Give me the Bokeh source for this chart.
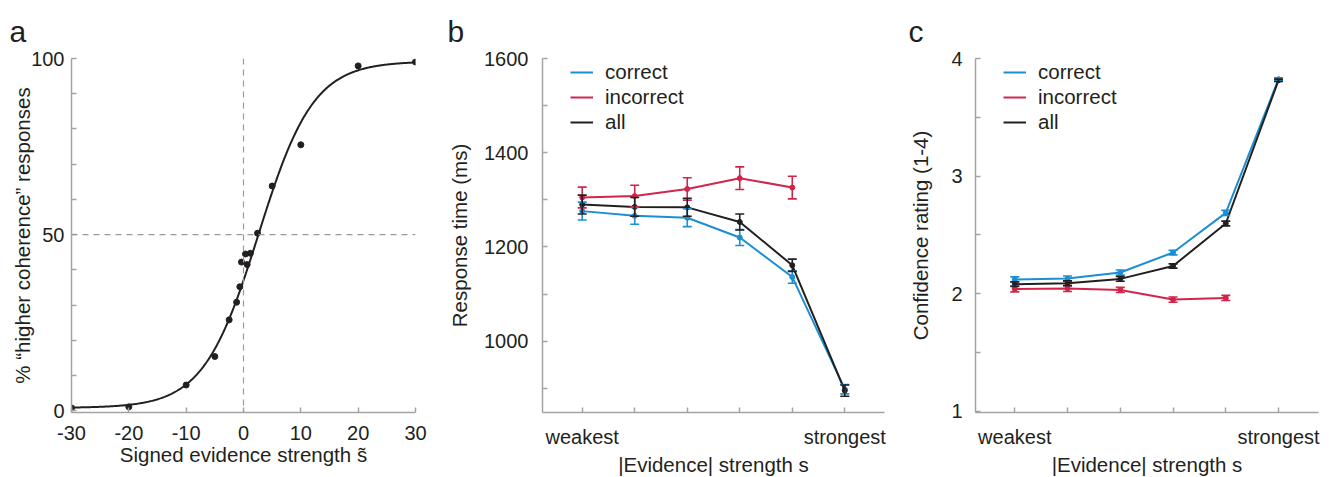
import numpy as np
from bokeh.plotting import figure
from bokeh.models import (Range1d, FixedTicker, Span, Whisker, ColumnDataSource,
                          TeeHead, Legend, LegendItem)
from bokeh.layouts import row
from bokeh.embed import file_html
from bokeh.resources import INLINE

# ---------------- data ----------------
# panel a: psychometric data points
a_x = [-30, -20, -10, -5, -2.5, -1.2, -0.64, -0.35, 0.35, 0.64, 1.2, 2.45, 5, 10, 20, 30]
a_y = [0.8, 1.1, 7.3, 15.4, 25.8, 30.8, 35.2, 42.2, 44.5, 41.5, 44.7, 50.4, 63.8, 75.5, 97.9, 99.0]
# logistic fit parameters
fit_low, fit_high, fit_mid, fit_scale = 0.8, 99.2, 2.6, 4.8
a_xticks = [-30, -20, -10, 0, 10, 20, 30]
a_xlabels = {-30: "-30", -20: "-20", -10: "-10", 0: "0", 10: "10", 20: "20", 30: "30"}
a_yticks = [0, 10, 20, 30, 40, 50, 60, 70, 80, 90, 100]
a_ylabels = {0: "0", 50: "50", 100: "100"}

# panels b, c: evidence strength levels
levels = [1, 2, 3, 4, 5, 6]
level_labels = {1: "weakest", 6: "strongest"}

rt_correct = [1276, 1266, 1262, 1220, 1136, 898]
rt_correct_err = [19, 18, 19, 17, 13, 10]
rt_incorrect = [1305, 1308, 1323, 1346, 1326]
rt_incorrect_err = [22, 23, 24, 24, 24]
rt_all = [1290, 1285, 1284, 1253, 1161, 895]
rt_all_err = [20, 20, 19, 17, 13, 12]
b_yticks = [900, 1000, 1100, 1200, 1300, 1400, 1500, 1600]
b_ylabels = {1000: "1000", 1200: "1200", 1400: "1400", 1600: "1600"}

conf_correct = [2.121, 2.129, 2.18, 2.35, 2.687, 3.824]
conf_correct_err = [0.022, 0.022, 0.022, 0.02, 0.022, 0.012]
conf_incorrect = [2.041, 2.044, 2.032, 1.95, 1.964]
conf_incorrect_err = [0.025, 0.025, 0.022, 0.022, 0.022]
conf_all = [2.081, 2.089, 2.126, 2.236, 2.597, 3.815]
conf_all_err = [0.02, 0.02, 0.02, 0.018, 0.02, 0.01]
c_yticks = [1, 1.5, 2, 2.5, 3, 3.5, 4]
c_ylabels = {1: "1", 2: "2", 3: "3", 4: "4"}

series_names = ["correct", "incorrect", "all"]

# ---------------- style ----------------
FONT = "Liberation Sans"
TXT = "#231f20"
AXC = "#a3a3a3"
BLUE = "#1b8fd3"
RED = "#d2254c"
BLACK = "#231f20"
FH = 354
TOP = 58
BOT = 40


def make_fig(fw, left, right, xr, yr, letter, offset):
    p = figure(frame_width=fw, frame_height=FH, x_range=Range1d(*xr), y_range=Range1d(*yr),
               output_backend="svg", toolbar_location=None,
               min_border_left=left, min_border_right=right,
               min_border_top=TOP, min_border_bottom=BOT, title=letter)
    p.outline_line_color = None
    p.grid.visible = False
    p.background_fill_color = "white"
    p.border_fill_color = "white"
    p.title.text_font = FONT
    p.title.text_font_size = "30px"
    p.title.text_font_style = "normal"
    p.title.text_color = TXT
    p.title.align = "left"
    p.title.offset = offset
    p.title.standoff = 21
    for ax in (p.xaxis[0], p.yaxis[0]):
        ax.axis_line_color = AXC
        ax.axis_line_width = 1.5
        ax.major_tick_line_color = AXC
        ax.major_tick_line_width = 1.5
        ax.major_tick_in = 5
        ax.major_tick_out = 0
        ax.minor_tick_line_color = None
        ax.major_label_text_font = FONT
        ax.major_label_text_font_size = "20px"
        ax.major_label_text_color = TXT
        ax.axis_label_text_font = FONT
        ax.axis_label_text_font_size = "20.5px"
        ax.axis_label_text_font_style = "normal"
        ax.axis_label_text_color = TXT
    return p


def overrides(ticks, labels):
    return {float(t): labels.get(t, "") for t in ticks}


# ---------------- panel a ----------------
pa = make_fig(344, 71, 27, (-30, 30), (-0.5, 100), "a", -62)
pa.xaxis.ticker = FixedTicker(ticks=a_xticks)
pa.xaxis.major_label_overrides = overrides(a_xticks, a_xlabels)
pa.yaxis.ticker = FixedTicker(ticks=a_yticks)
pa.yaxis.major_label_overrides = overrides(a_yticks, a_ylabels)
pa.xaxis.major_label_standoff = 13
pa.yaxis.major_label_standoff = 7
pa.xaxis.axis_label = "Signed evidence strength s\u0303"
pa.yaxis.axis_label = "% \u201chigher coherence\u201d responses"
pa.xaxis.axis_label_standoff = 0
pa.yaxis.axis_label_standoff = -6

pa.add_layout(Span(location=0, dimension="height", line_color="#9a9a9a",
                   line_width=1.2, line_dash="6 5"))
pa.add_layout(Span(location=50, dimension="width", line_color="#9a9a9a",
                   line_width=1.2, line_dash="6 5"))
xs = np.linspace(-30, 30, 400)
ys = fit_low + (fit_high - fit_low) / (1 + np.exp(-(xs - fit_mid) / fit_scale))
pa.line(xs, ys, line_color=BLACK, line_width=2)
pa.scatter(a_x, a_y, size=6, color=BLACK)


# ---------------- panels b, c ----------------
def series(p, vals, errs, color, cap):
    x = levels[:len(vals)]
    src = ColumnDataSource(dict(x=x, y=vals,
                                lo=[v - e for v, e in zip(vals, errs)],
                                hi=[v + e for v, e in zip(vals, errs)]))
    w = Whisker(source=src, base="x", upper="hi", lower="lo", line_color=color,
                line_width=1.6, level="glyph",
                upper_head=TeeHead(size=cap, line_color=color, line_width=1.6),
                lower_head=TeeHead(size=cap, line_color=color, line_width=1.6))
    p.add_layout(w)
    r = p.line("x", "y", source=src, line_color=color, line_width=2)
    p.scatter("x", "y", source=src, size=5, color=color)
    return r


def panel(fw, left, right, xr, yr, letter, offset, yticks, ylabels, ylabel,
          data, cap, lab_standoff, tick_standoff):
    p = make_fig(fw, left, right, xr, yr, letter, offset)
    p.xaxis.ticker = FixedTicker(ticks=levels)
    p.xaxis.major_label_overrides = overrides(levels, level_labels)
    p.yaxis.ticker = FixedTicker(ticks=yticks)
    p.yaxis.major_label_overrides = overrides(yticks, ylabels)
    p.xaxis.major_label_standoff = 13
    p.yaxis.major_label_standoff = tick_standoff
    p.xaxis.axis_label = "|Evidence| strength s"
    p.yaxis.axis_label = ylabel
    p.xaxis.axis_label_standoff = 2
    p.yaxis.axis_label_standoff = lab_standoff
    rends = {}
    for name, color in (("correct", BLUE), ("incorrect", RED), ("all", BLACK)):
        vals, errs = data[name]
        rends[name] = series(p, vals, errs, color, cap)
    leg = Legend(items=[LegendItem(label=n, renderers=[rends[n]]) for n in series_names],
                 location=(28, 278), padding=0, margin=0, spacing=1,
                 glyph_width=23, glyph_height=20, label_height=20, label_standoff=12,
                 label_text_font=FONT, label_text_font_size="20.5px",
                 label_text_color=TXT, border_line_color=None,
                 background_fill_alpha=0)
    p.add_layout(leg)
    return p


pb = panel(342, 100, 19, (0.244, 6.756), (848.5, 1600), "b", -95, b_yticks, b_ylabels,
           "Response time (ms)",
           {"correct": (rt_correct, rt_correct_err),
            "incorrect": (rt_incorrect, rt_incorrect_err),
            "all": (rt_all, rt_all_err)}, 9, 10, 14)

pc = panel(343, 72, 4, (0.255, 6.758), (0.99, 4), "c", -67, c_yticks, c_ylabels,
           "Confidence rating (1-4)",
           {"correct": (conf_correct, conf_correct_err),
            "incorrect": (conf_incorrect, conf_incorrect_err),
            "all": (conf_all, conf_all_err)}, 9, 16, 13)

layout = row(pa, pb, pc, spacing=0)
open("out.html", "w").write(file_html(layout, INLINE))
